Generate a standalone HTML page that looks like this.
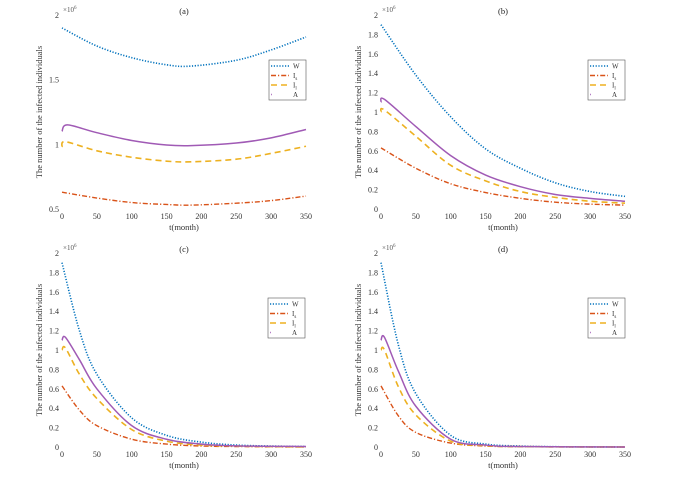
<!DOCTYPE html>
<html><head><meta charset="utf-8"><style>
body{margin:0;background:#fff;}
svg{font-family:"Liberation Serif",serif;}
</style></head><body>
<svg id="fig" width="682" height="476" xmlns="http://www.w3.org/2000/svg"></svg>
<script>
const xTicks=[0,50,100,150,200,250,300,350];
const yTicksA=[0.5,1,1.5,2];
const yTicksB=[0,0.2,0.4,0.6,0.8,1,1.2,1.4,1.6,1.8,2];
const panelTitles=["(a)","(b)","(c)","(d)"];
const seriesNames=["W","Is","Il","A"];
// panel a
const aT_W=[0,50,100,150,185,250,300,350], aW=[1.9,1.76,1.67,1.615,1.605,1.65,1.73,1.83];
const aT_Is=[0,50,100,150,185,250,300,350], aIs=[0.63,0.585,0.55,0.535,0.53,0.545,0.565,0.6];
const aT_Il=[0,5,50,100,150,185,250,300,350], aIl=[0.98,1.02,0.95,0.9,0.87,0.865,0.885,0.93,0.985];
const aT_A=[0,8,50,100,150,185,250,300,350], aA=[1.1,1.15,1.09,1.03,0.995,0.99,1.01,1.05,1.115];
// panel b
const bT=[0,50,100,150,200,250,300,350];
const bW=[1.9,1.38,0.95,0.62,0.42,0.27,0.18,0.13];
const bIs=[0.63,0.42,0.26,0.17,0.11,0.07,0.05,0.04];
const bT2=[0,5,50,100,150,200,250,300,350];
const bIl=[1.0,1.02,0.75,0.45,0.29,0.18,0.12,0.08,0.06];
const bA=[1.1,1.13,0.85,0.55,0.35,0.23,0.15,0.11,0.08];
// panel c
const cT=[0,25,50,100,150,200,250,300,350];
const cW=[1.9,1.2,0.75,0.3,0.12,0.05,0.02,0.01,0.005];
const cIs=[0.63,0.38,0.22,0.08,0.03,0.01,0.005,0.002,0];
const cT2=[0,5,25,50,100,150,200,250,350];
const cIl=[1.0,1.02,0.75,0.5,0.18,0.06,0.02,0.01,0];
const cA=[1.1,1.13,0.9,0.6,0.22,0.08,0.03,0.012,0.005];
// panel d
const dT=[0,25,50,100,150,200,250,350];
const dW=[1.9,1.05,0.55,0.12,0.03,0.01,0.003,0];
const dIs=[0.63,0.32,0.15,0.04,0.01,0.003,0.001,0];
const dT2=[0,5,25,50,100,150,200,350];
const dIl=[1.0,1.0,0.62,0.33,0.06,0.015,0.004,0];
const dA=[1.1,1.13,0.78,0.42,0.08,0.02,0.005,0];

const NS="http://www.w3.org/2000/svg";
const svg=document.getElementById('fig');
function mk(tag,attrs,parent){const e=document.createElementNS(NS,tag);for(const k in attrs)e.setAttribute(k,attrs[k]);(parent||svg).appendChild(e);return e;}
const styles=[
 {c:"#0072BD",d:"1.2 1.6",w:1.6},
 {c:"#D95319",d:"5 2 1.2 2",w:1.4},
 {c:"#EDB120",d:"6 4",w:1.6},
 {c:"#A05AB5",d:"",w:1.5}];
const panels=[
 {x0:62,x1:306,y0:15,y1:209,ymin:0.5,ymax:2,ticks:yTicksA,leg:[269,60],data:[[aT_W,aW],[aT_Is,aIs],[aT_Il,aIl],[aT_A,aA]]},
 {x0:381,x1:625,y0:15,y1:209,ymin:0,ymax:2,ticks:yTicksB,leg:[588,60],data:[[bT,bW],[bT,bIs],[bT2,bIl],[bT2,bA]]},
 {x0:62,x1:306,y0:253,y1:447,ymin:0,ymax:2,ticks:yTicksB,leg:[268,298],data:[[cT,cW],[cT,cIs],[cT2,cIl],[cT2,cA]]},
 {x0:381,x1:625,y0:253,y1:447,ymin:0,ymax:2,ticks:yTicksB,leg:[588,298],data:[[dT,dW],[dT,dIs],[dT2,dIl],[dT2,dA]]}];
function pathFor(xs,ys){
  let p=`M${xs[0]},${ys[0]}`;
  for(let i=0;i<xs.length-1;i++){
    const x0=xs[Math.max(i-1,0)],y0=ys[Math.max(i-1,0)],x1=xs[i],y1=ys[i],x2=xs[i+1],y2=ys[i+1],x3=xs[Math.min(i+2,xs.length-1)],y3=ys[Math.min(i+2,ys.length-1)];
    p+=` C${x1+(x2-x0)/6},${y1+(y2-y0)/6} ${x2-(x3-x1)/6},${y2-(y3-y1)/6} ${x2},${y2}`;
  }
  return p;
}
panels.forEach((P,pi)=>{
  const g=mk('g',{});
  
  
  const sx=t=>P.x0+(t/350)*(P.x1-P.x0);
  const sy=v=>P.y1-(v-P.ymin)/(P.ymax-P.ymin)*(P.y1-P.y0);
  xTicks.forEach(t=>{const e=mk('text',{x:sx(t),y:P.y1+10,'font-size':8,'text-anchor':'middle',fill:'#333'},g);e.textContent=t;
    });
  P.ticks.forEach(v=>{const e=mk('text',{x:P.x0-3,y:sy(v)+3,'font-size':8,'text-anchor':'end',fill:'#333'},g);e.textContent=String(Math.round(v*10)/10);
    });
  const ex=mk('text',{x:P.x0+1,y:P.y0-3,'font-size':7,fill:'#555'},g);ex.innerHTML='×10<tspan font-size="5" dy="-3">6</tspan>';
  
  const tt=mk('text',{x:(P.x0+P.x1)/2,y:P.y0-1,'font-size':8.5,'text-anchor':'middle',fill:'#222'},g);tt.textContent=panelTitles[pi];
  
  const xl=mk('text',{x:(P.x0+P.x1)/2,y:P.y1+21,'font-size':8.5,'text-anchor':'middle',fill:'#333'},g);xl.textContent='t(month)';
  
  const yx=P.x0-20,yy=(P.y0+P.y1)/2;
  const yl=mk('text',{x:yx,y:yy,'font-size':8.5,'text-anchor':'middle',fill:'#333',transform:`rotate(-90 ${yx} ${yy})`},g);yl.textContent='The number of the infected individuals';
  
  P.data.forEach((d,si)=>{
    const s=styles[si];
    const e=mk('path',{d:pathFor(d[0].map(sx),d[1].map(sy)),fill:'none',stroke:s.c,'stroke-width':s.w,'stroke-dasharray':s.d},g);
    
    
  });
  const [lx,ly]=P.leg;
  const lg=mk('g',{},g);
  
  mk('rect',{x:lx,y:ly,width:37,height:40,fill:'#fff',stroke:'#555','stroke-width':0.6},lg);
  const labs=['W','I<tspan font-size="5" dy="2">s</tspan>','I<tspan font-size="5" dy="2">l</tspan>','A'];
  labs.forEach((l,i)=>{
    const s=styles[i],yy2=ly+6+i*9.5;
    mk('line',{x1:lx+2,x2:lx+20,y1:yy2,y2:yy2,stroke:s.c,'stroke-width':s.w,'stroke-dasharray':i===3?'0.8 20':s.d},lg);
    const t=mk('text',{x:lx+24,y:yy2+2.5,'font-size':7,fill:'#333'},lg);t.innerHTML=l;
    
  });
});
</script>
</body></html>
